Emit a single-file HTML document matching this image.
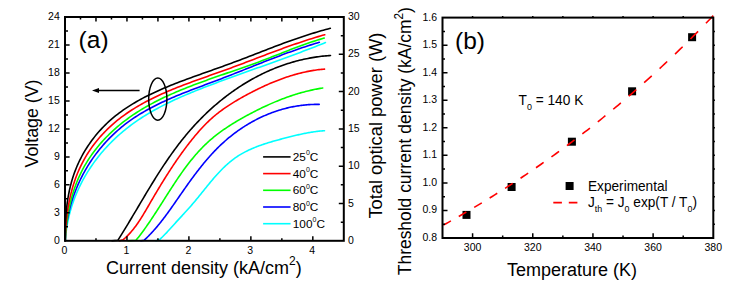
<!DOCTYPE html>
<html><head><meta charset="utf-8"><style>
html,body{margin:0;padding:0;background:#fff;width:730px;height:286px;overflow:hidden}
svg{display:block}
text{font-family:"Liberation Sans",sans-serif}
</style></head><body>
<svg width="730" height="286" viewBox="0 0 730 286" font-family="'Liberation Sans', sans-serif" fill="#000">
<defs><clipPath id="ca"><rect x="65" y="17" width="278.8" height="223.8"/></clipPath>
<clipPath id="cb"><rect x="442.5" y="17.6" width="270.8" height="220.4"/></clipPath></defs>
<rect x="462.5" y="210.9" width="8" height="8" fill="#000"/><rect x="507.6" y="183" width="8" height="8" fill="#000"/><rect x="567.9" y="137.7" width="8" height="8" fill="#000"/><rect x="628.1" y="87.3" width="8" height="8" fill="#000"/><rect x="688.1" y="33.2" width="8" height="8" fill="#000"/><path d="M443.3 225.16 L445.83 223.75 L448.37 222.34 L450.9 220.91 M458.75 216.45 L461.28 214.99 L463.82 213.52 L466.35 212.04 M474.2 207.41 L476.73 205.89 L479.27 204.37 L481.8 202.84 M489.65 198.03 L492.18 196.46 L494.72 194.88 L497.25 193.29 M505.1 188.3 L507.63 186.68 L510.17 185.04 L512.7 183.39 M520.55 178.21 L523.08 176.52 L525.62 174.82 L528.15 173.11 M536 167.75 L538.53 165.99 L541.07 164.23 L543.6 162.46 M551.45 156.89 L553.98 155.07 L556.52 153.24 L559.05 151.4 M566.9 145.62 L569.43 143.74 L571.97 141.84 L574.5 139.93 M582.35 133.94 L584.88 131.98 L587.42 130.01 L589.95 128.03 M597.8 121.82 L600.33 119.79 L602.87 117.75 L605.4 115.69 M613.25 109.25 L615.78 107.14 L618.32 105.02 L620.85 102.89 M628.7 96.2 L631.23 94.02 L633.77 91.82 L636.3 89.61 M644.15 82.67 L646.68 80.4 L649.22 78.12 L651.75 75.83 M659.6 68.63 L662.13 66.28 L664.67 63.92 L667.2 61.54 M675.05 54.07 L677.58 51.63 L680.12 49.18 L682.65 46.71 M690.5 38.97 L693.03 36.44 L695.57 33.89 L698.1 31.33 M705.95 23.3 L708.4 20.76 L710.85 18.21 L713.3 15.64" stroke="#ff0000" stroke-width="1.6" fill="none"/><path d="M65.31 240.81 L65.47 238.54 L65.66 236.28 L65.89 234.03 L66.15 231.79 L66.45 229.56 L66.78 227.34 L67.15 225.14 L67.55 222.94 L67.98 220.76 L68.44 218.58 L68.94 216.42 L69.47 214.27 L70.03 212.14 L70.63 210.01 L71.25 207.9 L71.91 205.8 L72.59 203.71 L73.31 201.64 L74.06 199.57 L74.83 197.53 L75.64 195.49 L76.47 193.47 L77.34 191.46 L78.23 189.47 L79.15 187.49 L80.09 185.53 L81.07 183.58 L82.07 181.64 L83.1 179.73 L84.15 177.82 L85.23 175.93 L86.34 174.06 L87.47 172.2 L88.63 170.36 L89.81 168.53 L91.01 166.72 L92.24 164.93 L93.5 163.15 L94.77 161.39 L96.07 159.65 L97.4 157.92 L98.74 156.22 L100.11 154.53 L101.5 152.85 L102.91 151.2 L104.34 149.56 L105.79 147.94 L107.27 146.34 L108.76 144.76 L110.27 143.2 L111.81 141.66 L113.36 140.13 L114.93 138.63 L116.52 137.14 L118.13 135.68 L119.75 134.23 L121.39 132.81 L123.05 131.4 L124.73 130.02 L126.42 128.65 L128.13 127.31 L129.86 125.99 L131.6 124.69 L133.36 123.41 L135.13 122.15 L136.91 120.9 L138.71 119.68 L140.53 118.48 L142.36 117.29 L144.2 116.13 L146.05 114.98 L147.91 113.85 L149.79 112.73 L151.68 111.64 L153.58 110.55 L155.49 109.49 L157.42 108.44 L159.35 107.4 L161.29 106.38 L163.24 105.37 L165.2 104.38 L167.17 103.4 L169.15 102.43 L171.14 101.48 L173.13 100.53 L175.14 99.6 L177.15 98.68 L179.16 97.78 L181.18 96.88 L183.21 95.99 L185.25 95.12 L187.29 94.25 L189.33 93.39 L191.38 92.54 L193.44 91.7 L195.49 90.87 L197.55 90.04 L199.62 89.22 L201.69 88.41 L203.76 87.6 L205.83 86.8 L207.9 86.01 L209.98 85.22 L212.05 84.44 L214.13 83.66 L216.21 82.88 L218.29 82.11 L220.37 81.34 L222.44 80.58 L224.52 79.82 L226.6 79.06 L228.67 78.3 L230.75 77.54 L232.82 76.79 L234.9 76.04 L236.97 75.29 L239.04 74.54 L241.11 73.8 L243.18 73.05 L245.26 72.31 L247.33 71.57 L249.39 70.83 L251.46 70.08 L253.53 69.34 L255.6 68.6 L257.67 67.87 L259.73 67.13 L261.8 66.39 L263.86 65.65 L265.92 64.91 L267.99 64.17 L270.05 63.43 L272.11 62.69 L274.17 61.94 L276.23 61.2 L278.29 60.45 L280.35 59.71 L282.41 58.96 L284.46 58.21 L286.52 57.46 L288.57 56.7 L290.63 55.95 L292.68 55.19 L294.73 54.43 L296.78 53.66 L298.83 52.9 L300.88 52.13 L302.93 51.35 L304.98 50.58 L307.02 49.8 L309.07 49.01 L311.11 48.23 L313.16 47.43 L315.2 46.64 L317.24 45.84 L319.28 45.04 L321.32 44.23 L323.36 43.41 L325.4 42.59" stroke="#00ffff" stroke-width="1.6" fill="none" stroke-linejoin="round" stroke-linecap="round"/><path d="M156 240.8 L159.6 239.6 L160.36 238.9 L161.11 238.19 L161.85 237.48 L162.59 236.76 L163.32 236.03 L164.05 235.3 L164.77 234.56 L165.48 233.82 L166.19 233.08 L166.9 232.33 L167.6 231.57 L168.3 230.82 L169 230.06 L169.69 229.3 L170.38 228.53 L171.07 227.77 L171.76 227 L172.45 226.24 L173.14 225.47 L173.83 224.7 L174.51 223.94 L175.2 223.17 L175.89 222.41 L176.58 221.65 L177.27 220.89 L177.97 220.13 L178.66 219.37 L179.36 218.61 L180.06 217.86 L180.75 217.1 L181.45 216.34 L182.15 215.59 L182.84 214.83 L183.54 214.08 L184.24 213.32 L184.93 212.56 L185.63 211.8 L186.32 211.04 L187.02 210.28 L187.71 209.51 L188.4 208.75 L189.09 207.98 L189.77 207.21 L190.46 206.43 L191.14 205.66 L191.82 204.88 L192.5 204.09 L193.17 203.31 L193.84 202.52 L194.51 201.72 L195.18 200.93 L195.85 200.13 L196.51 199.33 L197.17 198.52 L197.83 197.72 L198.49 196.91 L199.15 196.1 L199.81 195.29 L200.46 194.48 L201.12 193.66 L201.77 192.85 L202.43 192.04 L203.08 191.22 L203.74 190.41 L204.39 189.6 L205.05 188.78 L205.7 187.97 L206.36 187.16 L207.02 186.35 L207.67 185.54 L208.33 184.73 L208.99 183.92 L209.66 183.12 L210.32 182.32 L210.99 181.52 L211.65 180.72 L212.32 179.93 L213 179.14 L213.67 178.35 L214.35 177.57 L215.03 176.79 L215.71 176.01 L216.4 175.24 L217.09 174.47 L217.79 173.71 L218.48 172.95 L219.19 172.2 L219.89 171.45 L220.6 170.71 L221.32 169.97 L222.04 169.24 L222.76 168.52 L223.49 167.8 L224.22 167.09 L224.96 166.39 L225.71 165.69 L226.46 165 L227.22 164.32 L227.98 163.65 L228.75 162.98 L229.52 162.32 L230.31 161.67 L231.09 161.03 L231.89 160.4 L232.69 159.78 L233.5 159.17 L234.32 158.56 L235.14 157.97 L235.97 157.39 L236.81 156.81 L237.66 156.25 L238.52 155.7 L239.38 155.16 L240.26 154.63 L241.14 154.11 L242.02 153.59 L242.92 153.09 L243.82 152.6 L244.72 152.12 L245.64 151.64 L246.56 151.18 L247.48 150.72 L248.42 150.27 L249.35 149.84 L250.3 149.41 L251.25 148.98 L252.2 148.57 L253.16 148.16 L254.12 147.76 L255.09 147.37 L256.06 146.98 L257.03 146.6 L258.01 146.23 L259 145.87 L259.98 145.51 L260.97 145.15 L261.96 144.81 L262.96 144.47 L263.96 144.13 L264.95 143.8 L265.96 143.48 L266.96 143.16 L267.97 142.84 L268.97 142.53 L269.98 142.23 L270.99 141.92 L272 141.63 L273.01 141.33 L274.02 141.04 L275.03 140.76 L276.04 140.48 L277.05 140.2 L278.06 139.92 L279.07 139.65 L280.08 139.37 L281.09 139.11 L282.09 138.84 L283.1 138.58 L284.1 138.31 L285.1 138.05 L286.1 137.79 L287.1 137.54 L288.09 137.28 L289.09 137.03 L290.08 136.77 L291.07 136.52 L292.06 136.28 L293.05 136.03 L294.04 135.79 L295.03 135.55 L296.02 135.32 L297 135.08 L297.99 134.86 L298.98 134.63 L299.97 134.41 L300.96 134.19 L301.96 133.98 L302.95 133.77 L303.94 133.57 L304.94 133.37 L305.94 133.17 L306.94 132.98 L307.94 132.8 L308.95 132.62 L309.96 132.45 L310.97 132.28 L311.99 132.12 L313 131.96 L314.03 131.81 L315.05 131.67 L316.08 131.53 L317.12 131.4 L318.16 131.28 L319.2 131.16 L320.25 131.06 L321.3 130.96 L322.36 130.86 L323.43 130.78 L324.5 130.7" stroke="#00ffff" stroke-width="1.6" fill="none" stroke-linejoin="round" stroke-linecap="round"/><path d="M65.31 240.81 L65.39 238.58 L65.49 236.36 L65.64 234.14 L65.82 231.93 L66.03 229.72 L66.27 227.53 L66.54 225.34 L66.85 223.15 L67.19 220.98 L67.57 218.81 L67.97 216.65 L68.41 214.5 L68.88 212.35 L69.37 210.22 L69.9 208.09 L70.46 205.98 L71.05 203.87 L71.67 201.78 L72.32 199.69 L73 197.62 L73.71 195.56 L74.45 193.51 L75.22 191.47 L76.01 189.44 L76.83 187.43 L77.69 185.42 L78.56 183.44 L79.47 181.46 L80.4 179.5 L81.36 177.55 L82.35 175.62 L83.37 173.7 L84.41 171.8 L85.47 169.91 L86.56 168.04 L87.68 166.18 L88.82 164.34 L89.99 162.51 L91.18 160.71 L92.4 158.92 L93.64 157.14 L94.91 155.39 L96.19 153.65 L97.51 151.93 L98.84 150.23 L100.2 148.55 L101.58 146.89 L102.98 145.25 L104.41 143.63 L105.86 142.02 L107.33 140.44 L108.82 138.88 L110.33 137.34 L111.86 135.83 L113.41 134.33 L114.99 132.86 L116.58 131.4 L118.2 129.98 L119.83 128.57 L121.48 127.19 L123.15 125.83 L124.85 124.49 L126.56 123.18 L128.28 121.9 L130.03 120.64 L131.79 119.4 L133.57 118.18 L135.37 116.99 L137.18 115.82 L139.01 114.67 L140.86 113.54 L142.72 112.44 L144.59 111.35 L146.47 110.28 L148.37 109.23 L150.29 108.19 L152.21 107.18 L154.15 106.18 L156.09 105.2 L158.05 104.23 L160.02 103.28 L162 102.34 L163.99 101.41 L165.98 100.5 L167.99 99.6 L170 98.71 L172.02 97.84 L174.05 96.97 L176.08 96.11 L178.12 95.27 L180.17 94.43 L182.22 93.6 L184.27 92.78 L186.33 91.97 L188.4 91.16 L190.46 90.36 L192.53 89.56 L194.6 88.77 L196.67 87.98 L198.74 87.2 L200.82 86.42 L202.89 85.64 L204.96 84.86 L207.04 84.09 L209.11 83.31 L211.18 82.54 L213.24 81.76 L215.31 80.98 L217.37 80.2 L219.43 79.42 L221.48 78.64 L223.53 77.85 L225.58 77.06 L227.62 76.27 L229.66 75.47 L231.69 74.68 L233.72 73.88 L235.75 73.08 L237.78 72.28 L239.8 71.47 L241.82 70.67 L243.84 69.87 L245.86 69.06 L247.88 68.26 L249.89 67.45 L251.91 66.65 L253.92 65.85 L255.93 65.05 L257.94 64.25 L259.95 63.45 L261.97 62.66 L263.98 61.86 L265.99 61.07 L268.01 60.28 L270.02 59.5 L272.04 58.72 L274.06 57.94 L276.08 57.16 L278.1 56.4 L280.12 55.63 L282.15 54.87 L284.18 54.11 L286.21 53.36 L288.24 52.62 L290.28 51.88 L292.32 51.15 L294.37 50.42 L296.42 49.7 L298.47 48.99 L300.53 48.28 L302.59 47.58 L304.66 46.89 L306.73 46.21 L308.81 45.53 L310.9 44.87 L312.99 44.21 L315.09 43.56 L317.19 42.92 L319.3 42.29" stroke="#0000ff" stroke-width="1.6" fill="none" stroke-linejoin="round" stroke-linecap="round"/><path d="M141 240.8 L144.21 240.21 L145.06 239.42 L145.89 238.63 L146.72 237.83 L147.54 237.02 L148.36 236.21 L149.16 235.39 L149.96 234.56 L150.76 233.73 L151.54 232.89 L152.32 232.04 L153.1 231.19 L153.86 230.34 L154.62 229.47 L155.38 228.61 L156.13 227.73 L156.88 226.86 L157.62 225.97 L158.35 225.09 L159.08 224.2 L159.81 223.3 L160.53 222.4 L161.24 221.49 L161.96 220.58 L162.66 219.67 L163.37 218.76 L164.07 217.84 L164.77 216.91 L165.46 215.99 L166.15 215.06 L166.84 214.12 L167.52 213.19 L168.21 212.25 L168.89 211.31 L169.57 210.36 L170.24 209.42 L170.92 208.47 L171.59 207.52 L172.26 206.57 L172.93 205.62 L173.6 204.66 L174.26 203.71 L174.93 202.75 L175.59 201.79 L176.26 200.83 L176.92 199.87 L177.59 198.91 L178.25 197.95 L178.92 196.99 L179.58 196.02 L180.25 195.06 L180.91 194.1 L181.58 193.14 L182.25 192.18 L182.92 191.21 L183.59 190.25 L184.26 189.29 L184.93 188.34 L185.61 187.38 L186.28 186.42 L186.96 185.46 L187.64 184.51 L188.32 183.55 L189 182.6 L189.69 181.65 L190.37 180.7 L191.06 179.75 L191.75 178.81 L192.45 177.86 L193.14 176.92 L193.84 175.98 L194.54 175.04 L195.24 174.11 L195.95 173.18 L196.66 172.25 L197.37 171.32 L198.09 170.39 L198.8 169.47 L199.52 168.55 L200.25 167.63 L200.98 166.72 L201.71 165.81 L202.44 164.9 L203.18 164 L203.92 163.1 L204.66 162.2 L205.41 161.31 L206.17 160.42 L206.92 159.54 L207.68 158.65 L208.45 157.78 L209.22 156.91 L209.99 156.04 L210.77 155.17 L211.55 154.31 L212.34 153.46 L213.13 152.61 L213.93 151.76 L214.73 150.92 L215.54 150.09 L216.35 149.26 L217.16 148.43 L217.99 147.61 L218.81 146.8 L219.65 145.99 L220.48 145.19 L221.33 144.39 L222.17 143.6 L223.03 142.82 L223.89 142.04 L224.76 141.26 L225.63 140.5 L226.5 139.74 L227.39 138.98 L228.28 138.23 L229.17 137.49 L230.07 136.76 L230.98 136.03 L231.89 135.31 L232.8 134.59 L233.72 133.89 L234.65 133.18 L235.58 132.49 L236.52 131.8 L237.46 131.12 L238.41 130.45 L239.36 129.78 L240.32 129.12 L241.28 128.47 L242.25 127.83 L243.22 127.19 L244.19 126.56 L245.18 125.94 L246.16 125.32 L247.15 124.71 L248.15 124.11 L249.15 123.52 L250.15 122.94 L251.16 122.36 L252.17 121.79 L253.19 121.23 L254.21 120.68 L255.24 120.14 L256.27 119.6 L257.3 119.07 L258.34 118.55 L259.38 118.04 L260.43 117.54 L261.48 117.04 L262.54 116.55 L263.59 116.08 L264.66 115.61 L265.72 115.15 L266.79 114.7 L267.87 114.25 L268.94 113.82 L270.02 113.39 L271.11 112.98 L272.2 112.57 L273.29 112.17 L274.38 111.78 L275.48 111.4 L276.58 111.03 L277.68 110.67 L278.79 110.32 L279.9 109.98 L281.02 109.65 L282.13 109.32 L283.25 109.01 L284.38 108.71 L285.5 108.41 L286.63 108.13 L287.76 107.85 L288.9 107.59 L290.03 107.34 L291.17 107.09 L292.32 106.86 L293.46 106.63 L294.61 106.42 L295.76 106.22 L296.91 106.02 L298.07 105.84 L299.22 105.67 L300.38 105.51 L301.54 105.36 L302.71 105.21 L303.87 105.09 L305.04 104.97 L306.21 104.86 L307.38 104.76 L308.56 104.67 L309.73 104.6 L310.91 104.54 L312.09 104.48 L313.27 104.44 L314.46 104.41 L315.64 104.39 L316.83 104.38 L318.02 104.39 L319.2 104.4" stroke="#0000ff" stroke-width="1.6" fill="none" stroke-linejoin="round" stroke-linecap="round"/><path d="M65.31 240.8 L65.4 238.58 L65.52 236.35 L65.67 234.12 L65.83 231.88 L66.02 229.64 L66.24 227.4 L66.48 225.16 L66.74 222.92 L67.03 220.68 L67.35 218.44 L67.69 216.21 L68.06 213.98 L68.45 211.75 L68.87 209.53 L69.33 207.31 L69.8 205.1 L70.31 202.9 L70.85 200.71 L71.42 198.52 L72.02 196.35 L72.64 194.18 L73.3 192.03 L73.99 189.89 L74.71 187.76 L75.47 185.65 L76.25 183.55 L77.07 181.47 L77.93 179.4 L78.81 177.35 L79.74 175.32 L80.69 173.31 L81.68 171.31 L82.7 169.34 L83.76 167.39 L84.85 165.45 L85.97 163.54 L87.12 161.64 L88.31 159.77 L89.52 157.91 L90.76 156.08 L92.04 154.26 L93.34 152.47 L94.67 150.7 L96.02 148.94 L97.4 147.21 L98.81 145.5 L100.25 143.81 L101.7 142.15 L103.19 140.5 L104.69 138.88 L106.22 137.27 L107.78 135.69 L109.35 134.14 L110.95 132.6 L112.56 131.09 L114.2 129.6 L115.86 128.13 L117.53 126.68 L119.23 125.26 L120.94 123.86 L122.67 122.48 L124.41 121.13 L126.18 119.8 L127.95 118.5 L129.75 117.21 L131.56 115.95 L133.38 114.7 L135.22 113.48 L137.07 112.28 L138.94 111.1 L140.82 109.94 L142.72 108.79 L144.62 107.67 L146.54 106.56 L148.48 105.47 L150.42 104.4 L152.38 103.35 L154.34 102.31 L156.32 101.28 L158.31 100.28 L160.31 99.28 L162.32 98.31 L164.34 97.34 L166.36 96.39 L168.4 95.46 L170.45 94.53 L172.5 93.62 L174.56 92.72 L176.63 91.84 L178.7 90.96 L180.79 90.1 L182.88 89.24 L184.97 88.4 L187.07 87.56 L189.18 86.73 L191.29 85.91 L193.41 85.1 L195.53 84.3 L197.65 83.51 L199.78 82.72 L201.92 81.93 L204.05 81.16 L206.19 80.39 L208.33 79.62 L210.47 78.86 L212.62 78.1 L214.76 77.35 L216.91 76.6 L219.06 75.85 L221.2 75.11 L223.35 74.37 L225.5 73.62 L227.65 72.88 L229.79 72.15 L231.94 71.41 L234.08 70.67 L236.22 69.93 L238.36 69.19 L240.5 68.45 L242.63 67.7 L244.76 66.95 L246.88 66.21 L249.01 65.45 L251.12 64.7 L253.24 63.94 L255.34 63.17 L257.45 62.4 L259.54 61.63 L261.63 60.85 L263.72 60.06 L265.79 59.27 L267.87 58.47 L269.94 57.67 L272 56.87 L274.06 56.06 L276.12 55.25 L278.18 54.44 L280.23 53.64 L282.29 52.83 L284.34 52.02 L286.4 51.22 L288.45 50.42 L290.51 49.62 L292.57 48.83 L294.63 48.05 L296.7 47.27 L298.77 46.5 L300.85 45.73 L302.93 44.98 L305.02 44.24 L307.11 43.5 L309.22 42.78 L311.33 42.07 L313.45 41.37 L315.57 40.68 L317.71 40.01 L319.86 39.36 L322.02 38.72 L324.2 38.09" stroke="#00ff00" stroke-width="1.6" fill="none" stroke-linejoin="round" stroke-linecap="round"/><path d="M128 240.8 L136 240.3 L136.78 239.33 L137.55 238.37 L138.32 237.39 L139.09 236.41 L139.85 235.43 L140.6 234.44 L141.35 233.44 L142.1 232.44 L142.84 231.44 L143.57 230.43 L144.31 229.42 L145.04 228.4 L145.77 227.38 L146.49 226.35 L147.21 225.33 L147.92 224.29 L148.64 223.26 L149.35 222.22 L150.06 221.18 L150.76 220.14 L151.46 219.09 L152.16 218.04 L152.86 216.99 L153.56 215.93 L154.25 214.87 L154.94 213.81 L155.63 212.75 L156.32 211.69 L157.01 210.62 L157.7 209.56 L158.38 208.49 L159.07 207.42 L159.75 206.35 L160.43 205.28 L161.11 204.21 L161.8 203.14 L162.48 202.06 L163.16 200.99 L163.84 199.92 L164.52 198.84 L165.2 197.77 L165.88 196.69 L166.57 195.62 L167.25 194.55 L167.93 193.48 L168.62 192.4 L169.3 191.33 L169.99 190.26 L170.68 189.2 L171.37 188.13 L172.06 187.06 L172.75 186 L173.44 184.94 L174.14 183.88 L174.84 182.82 L175.54 181.76 L176.25 180.71 L176.95 179.66 L177.66 178.61 L178.37 177.56 L179.09 176.52 L179.8 175.48 L180.52 174.44 L181.25 173.41 L181.98 172.38 L182.71 171.35 L183.44 170.33 L184.18 169.31 L184.93 168.3 L185.67 167.29 L186.42 166.28 L187.18 165.28 L187.94 164.28 L188.71 163.29 L189.48 162.3 L190.25 161.32 L191.03 160.34 L191.82 159.37 L192.61 158.41 L193.41 157.45 L194.21 156.49 L195.02 155.54 L195.83 154.6 L196.65 153.66 L197.48 152.73 L198.31 151.81 L199.15 150.89 L200 149.98 L200.85 149.08 L201.71 148.18 L202.58 147.29 L203.45 146.41 L204.33 145.54 L205.22 144.67 L206.12 143.81 L207.02 142.96 L207.94 142.12 L208.86 141.28 L209.78 140.46 L210.72 139.64 L211.67 138.83 L212.62 138.03 L213.58 137.23 L214.55 136.45 L215.52 135.67 L216.5 134.9 L217.49 134.14 L218.49 133.38 L219.49 132.63 L220.5 131.89 L221.51 131.16 L222.54 130.43 L223.56 129.71 L224.6 129 L225.63 128.29 L226.68 127.59 L227.73 126.9 L228.78 126.21 L229.84 125.52 L230.9 124.85 L231.97 124.18 L233.04 123.51 L234.12 122.85 L235.2 122.2 L236.28 121.55 L237.37 120.9 L238.46 120.26 L239.56 119.63 L240.65 119 L241.75 118.37 L242.86 117.75 L243.96 117.13 L245.07 116.52 L246.18 115.91 L247.29 115.31 L248.4 114.71 L249.52 114.11 L250.64 113.52 L251.75 112.93 L252.87 112.34 L254 111.76 L255.12 111.19 L256.25 110.61 L257.38 110.05 L258.51 109.48 L259.64 108.92 L260.77 108.37 L261.91 107.82 L263.05 107.28 L264.19 106.74 L265.33 106.2 L266.47 105.67 L267.62 105.15 L268.77 104.63 L269.92 104.12 L271.07 103.61 L272.23 103.11 L273.38 102.61 L274.54 102.12 L275.7 101.63 L276.86 101.15 L278.03 100.68 L279.19 100.21 L280.36 99.75 L281.53 99.29 L282.71 98.84 L283.88 98.4 L285.06 97.96 L286.24 97.53 L287.42 97.11 L288.61 96.69 L289.79 96.28 L290.98 95.87 L292.17 95.48 L293.37 95.09 L294.56 94.7 L295.76 94.33 L296.96 93.96 L298.16 93.59 L299.36 93.24 L300.57 92.89 L301.78 92.55 L302.99 92.22 L304.21 91.9 L305.42 91.58 L306.64 91.27 L307.86 90.97 L309.08 90.68 L310.31 90.39 L311.54 90.11 L312.77 89.85 L314 89.58 L315.24 89.33 L316.47 89.09 L317.71 88.85 L318.96 88.63 L320.2 88.41 L321.45 88.2 L322.7 88" stroke="#00ff00" stroke-width="1.6" fill="none" stroke-linejoin="round" stroke-linecap="round"/><path d="M65.31 240.8 L65.34 238.56 L65.4 236.31 L65.47 234.05 L65.57 231.78 L65.69 229.51 L65.84 227.24 L66 224.96 L66.2 222.68 L66.41 220.39 L66.65 218.11 L66.92 215.82 L67.21 213.54 L67.53 211.26 L67.87 208.98 L68.24 206.7 L68.64 204.43 L69.07 202.16 L69.53 199.9 L70.01 197.65 L70.53 195.4 L71.07 193.17 L71.65 190.94 L72.25 188.72 L72.89 186.52 L73.56 184.33 L74.26 182.15 L74.99 179.98 L75.76 177.83 L76.56 175.69 L77.39 173.58 L78.26 171.48 L79.17 169.39 L80.11 167.33 L81.08 165.29 L82.09 163.27 L83.14 161.27 L84.23 159.29 L85.34 157.33 L86.5 155.4 L87.68 153.49 L88.9 151.6 L90.16 149.73 L91.44 147.89 L92.75 146.07 L94.1 144.27 L95.48 142.49 L96.88 140.74 L98.32 139.02 L99.78 137.32 L101.27 135.64 L102.78 133.98 L104.33 132.35 L105.9 130.75 L107.49 129.17 L109.11 127.62 L110.75 126.09 L112.42 124.58 L114.11 123.11 L115.82 121.65 L117.55 120.23 L119.31 118.83 L121.08 117.46 L122.88 116.11 L124.69 114.79 L126.52 113.5 L128.37 112.23 L130.24 110.98 L132.13 109.76 L134.03 108.56 L135.95 107.38 L137.89 106.22 L139.84 105.09 L141.8 103.97 L143.78 102.88 L145.77 101.81 L147.78 100.75 L149.8 99.71 L151.83 98.69 L153.87 97.69 L155.93 96.7 L157.99 95.73 L160.07 94.77 L162.15 93.83 L164.25 92.9 L166.35 91.99 L168.46 91.09 L170.58 90.2 L172.71 89.32 L174.84 88.46 L176.98 87.6 L179.12 86.76 L181.28 85.92 L183.43 85.09 L185.59 84.27 L187.75 83.46 L189.92 82.65 L192.09 81.86 L194.26 81.06 L196.43 80.27 L198.61 79.49 L200.78 78.71 L202.96 77.93 L205.13 77.16 L207.31 76.39 L209.48 75.62 L211.65 74.85 L213.82 74.08 L215.99 73.32 L218.15 72.55 L220.31 71.78 L222.46 71 L224.61 70.23 L226.76 69.45 L228.9 68.67 L231.03 67.89 L233.16 67.1 L235.29 66.31 L237.41 65.52 L239.52 64.72 L241.64 63.93 L243.75 63.13 L245.85 62.33 L247.96 61.54 L250.06 60.74 L252.16 59.94 L254.26 59.14 L256.36 58.34 L258.46 57.54 L260.55 56.75 L262.65 55.95 L264.74 55.16 L266.84 54.36 L268.94 53.57 L271.04 52.79 L273.14 52 L275.24 51.22 L277.34 50.44 L279.45 49.66 L281.56 48.89 L283.67 48.12 L285.78 47.36 L287.9 46.6 L290.03 45.85 L292.15 45.1 L294.29 44.36 L296.42 43.62 L298.56 42.89 L300.71 42.16 L302.86 41.45 L305.02 40.74 L307.19 40.03 L309.36 39.34 L311.55 38.65 L313.73 37.97 L315.93 37.29 L318.13 36.63 L320.35 35.98 L322.57 35.33 L324.8 34.7" stroke="#ff0000" stroke-width="1.6" fill="none" stroke-linejoin="round" stroke-linecap="round"/><path d="M119.5 240.8 L123.01 239.81 L124.07 238.91 L125.11 237.99 L126.13 237.05 L127.13 236.09 L128.1 235.12 L129.05 234.13 L129.98 233.12 L130.9 232.1 L131.79 231.06 L132.67 230.01 L133.53 228.94 L134.37 227.86 L135.2 226.77 L136.02 225.67 L136.82 224.56 L137.61 223.44 L138.39 222.3 L139.15 221.16 L139.91 220.01 L140.66 218.85 L141.39 217.69 L142.12 216.51 L142.85 215.34 L143.56 214.15 L144.27 212.96 L144.98 211.77 L145.68 210.58 L146.39 209.38 L147.08 208.18 L147.78 206.98 L148.48 205.77 L149.17 204.57 L149.87 203.37 L150.57 202.16 L151.27 200.96 L151.97 199.76 L152.68 198.56 L153.38 197.36 L154.09 196.16 L154.79 194.96 L155.5 193.76 L156.21 192.56 L156.93 191.37 L157.64 190.17 L158.36 188.98 L159.08 187.78 L159.8 186.59 L160.52 185.4 L161.24 184.21 L161.97 183.03 L162.7 181.84 L163.43 180.65 L164.17 179.47 L164.9 178.29 L165.64 177.11 L166.38 175.93 L167.13 174.75 L167.88 173.58 L168.63 172.41 L169.38 171.24 L170.14 170.07 L170.9 168.9 L171.66 167.74 L172.43 166.58 L173.2 165.42 L173.97 164.26 L174.75 163.11 L175.53 161.96 L176.31 160.81 L177.1 159.66 L177.89 158.52 L178.69 157.38 L179.49 156.24 L180.29 155.1 L181.1 153.97 L181.91 152.84 L182.72 151.72 L183.54 150.6 L184.37 149.48 L185.19 148.36 L186.03 147.25 L186.86 146.14 L187.71 145.03 L188.55 143.93 L189.41 142.83 L190.26 141.74 L191.12 140.65 L191.99 139.56 L192.86 138.48 L193.74 137.4 L194.62 136.33 L195.51 135.27 L196.41 134.21 L197.31 133.15 L198.22 132.11 L199.13 131.07 L200.05 130.04 L200.98 129.01 L201.92 127.99 L202.86 126.98 L203.81 125.98 L204.77 124.99 L205.74 124.01 L206.71 123.03 L207.7 122.07 L208.69 121.12 L209.69 120.17 L210.7 119.24 L211.72 118.32 L212.75 117.41 L213.79 116.51 L214.83 115.62 L215.89 114.75 L216.96 113.88 L218.03 113.03 L219.12 112.19 L220.21 111.36 L221.32 110.54 L222.43 109.73 L223.55 108.93 L224.67 108.14 L225.81 107.36 L226.95 106.59 L228.1 105.83 L229.25 105.07 L230.41 104.33 L231.58 103.59 L232.75 102.86 L233.93 102.13 L235.12 101.42 L236.31 100.7 L237.5 100 L238.7 99.3 L239.91 98.61 L241.12 97.92 L242.33 97.24 L243.55 96.57 L244.77 95.89 L245.99 95.23 L247.22 94.56 L248.44 93.9 L249.68 93.25 L250.91 92.6 L252.15 91.96 L253.4 91.32 L254.64 90.68 L255.89 90.06 L257.14 89.43 L258.4 88.82 L259.65 88.21 L260.91 87.6 L262.18 87.01 L263.44 86.42 L264.71 85.83 L265.99 85.25 L267.26 84.68 L268.54 84.12 L269.82 83.57 L271.11 83.02 L272.39 82.48 L273.68 81.94 L274.97 81.42 L276.27 80.9 L277.57 80.39 L278.87 79.89 L280.17 79.4 L281.47 78.92 L282.78 78.45 L284.09 77.98 L285.41 77.53 L286.72 77.08 L288.04 76.65 L289.36 76.22 L290.68 75.81 L292.01 75.4 L293.34 75 L294.67 74.62 L296 74.24 L297.34 73.88 L298.67 73.53 L300.01 73.18 L301.36 72.85 L302.7 72.53 L304.05 72.23 L305.4 71.93 L306.75 71.64 L308.1 71.37 L309.46 71.11 L310.81 70.86 L312.17 70.63 L313.53 70.4 L314.9 70.19 L316.26 70 L317.63 69.81 L319 69.64 L320.37 69.49 L321.75 69.34 L323.12 69.21 L324.5 69.1" stroke="#ff0000" stroke-width="1.6" fill="none" stroke-linejoin="round" stroke-linecap="round"/><path d="M65.31 240.8 L65.27 238.5 L65.25 236.18 L65.24 233.85 L65.26 231.52 L65.29 229.17 L65.34 226.83 L65.42 224.47 L65.51 222.11 L65.63 219.75 L65.78 217.39 L65.95 215.02 L66.14 212.65 L66.36 210.29 L66.61 207.92 L66.88 205.56 L67.19 203.2 L67.52 200.85 L67.89 198.5 L68.29 196.16 L68.72 193.83 L69.19 191.5 L69.69 189.19 L70.22 186.88 L70.8 184.59 L71.41 182.31 L72.05 180.04 L72.74 177.79 L73.47 175.56 L74.24 173.34 L75.05 171.14 L75.9 168.95 L76.79 166.79 L77.72 164.64 L78.68 162.51 L79.69 160.41 L80.73 158.32 L81.81 156.25 L82.93 154.21 L84.08 152.19 L85.27 150.19 L86.5 148.21 L87.76 146.26 L89.05 144.33 L90.37 142.43 L91.73 140.55 L93.12 138.7 L94.55 136.87 L96 135.07 L97.48 133.3 L99 131.55 L100.54 129.84 L102.12 128.15 L103.72 126.49 L105.35 124.86 L107 123.26 L108.69 121.7 L110.4 120.16 L112.13 118.65 L113.89 117.18 L115.68 115.73 L117.49 114.31 L119.32 112.92 L121.17 111.56 L123.05 110.22 L124.95 108.91 L126.87 107.62 L128.8 106.36 L130.76 105.12 L132.74 103.91 L134.74 102.72 L136.75 101.55 L138.78 100.4 L140.83 99.28 L142.89 98.17 L144.97 97.08 L147.06 96.01 L149.17 94.96 L151.29 93.93 L153.42 92.92 L155.57 91.92 L157.72 90.93 L159.89 89.97 L162.07 89.01 L164.26 88.07 L166.46 87.15 L168.66 86.23 L170.88 85.33 L173.1 84.44 L175.33 83.56 L177.56 82.69 L179.8 81.83 L182.04 80.98 L184.29 80.14 L186.55 79.3 L188.8 78.47 L191.06 77.65 L193.32 76.83 L195.58 76.02 L197.84 75.21 L200.11 74.41 L202.37 73.6 L204.63 72.81 L206.89 72.01 L209.14 71.21 L211.4 70.42 L213.65 69.62 L215.89 68.83 L218.13 68.03 L220.37 67.23 L222.59 66.43 L224.82 65.62 L227.03 64.81 L229.24 64 L231.44 63.18 L233.63 62.36 L235.82 61.54 L238.01 60.71 L240.18 59.88 L242.36 59.05 L244.52 58.22 L246.69 57.38 L248.85 56.55 L251.01 55.72 L253.16 54.88 L255.31 54.05 L257.47 53.21 L259.62 52.38 L261.77 51.55 L263.91 50.72 L266.06 49.89 L268.21 49.06 L270.36 48.24 L272.51 47.42 L274.67 46.6 L276.82 45.79 L278.98 44.98 L281.14 44.17 L283.3 43.37 L285.47 42.58 L287.64 41.79 L289.82 41.01 L292 40.23 L294.19 39.46 L296.38 38.69 L298.58 37.94 L300.79 37.19 L303 36.45 L305.23 35.71 L307.46 34.99 L309.69 34.27 L311.94 33.57 L314.2 32.87 L316.47 32.18 L318.74 31.51 L321.03 30.84 L323.33 30.19 L325.64 29.55 L327.97 28.92 L330.3 28.3" stroke="#000000" stroke-width="1.6" fill="none" stroke-linejoin="round" stroke-linecap="round"/><path d="M112 240.8 L117.82 240.31 L118.6 239.07 L119.39 237.83 L120.17 236.59 L120.95 235.35 L121.73 234.11 L122.5 232.86 L123.27 231.61 L124.05 230.35 L124.82 229.1 L125.58 227.84 L126.35 226.58 L127.12 225.32 L127.88 224.06 L128.64 222.79 L129.41 221.53 L130.17 220.26 L130.93 218.99 L131.69 217.72 L132.45 216.45 L133.21 215.18 L133.96 213.9 L134.72 212.63 L135.48 211.35 L136.24 210.08 L137 208.8 L137.75 207.52 L138.51 206.24 L139.27 204.97 L140.03 203.69 L140.79 202.41 L141.55 201.13 L142.31 199.85 L143.07 198.57 L143.83 197.29 L144.59 196.01 L145.36 194.74 L146.12 193.46 L146.89 192.18 L147.66 190.91 L148.43 189.63 L149.2 188.36 L149.98 187.08 L150.75 185.81 L151.53 184.54 L152.31 183.27 L153.09 182 L153.88 180.73 L154.66 179.47 L155.45 178.2 L156.24 176.94 L157.04 175.68 L157.83 174.42 L158.63 173.17 L159.44 171.91 L160.24 170.66 L161.05 169.41 L161.87 168.16 L162.68 166.92 L163.5 165.67 L164.33 164.43 L165.15 163.2 L165.99 161.96 L166.82 160.73 L167.66 159.5 L168.5 158.28 L169.35 157.06 L170.2 155.84 L171.06 154.62 L171.92 153.41 L172.79 152.21 L173.66 151 L174.53 149.8 L175.41 148.61 L176.3 147.41 L177.19 146.23 L178.09 145.04 L178.99 143.86 L179.9 142.69 L180.81 141.52 L181.73 140.35 L182.65 139.19 L183.58 138.04 L184.52 136.88 L185.46 135.74 L186.41 134.6 L187.37 133.46 L188.33 132.33 L189.29 131.2 L190.27 130.08 L191.25 128.97 L192.24 127.86 L193.23 126.76 L194.23 125.66 L195.23 124.57 L196.24 123.48 L197.26 122.4 L198.28 121.33 L199.31 120.26 L200.35 119.19 L201.39 118.14 L202.43 117.09 L203.49 116.04 L204.55 115.01 L205.61 113.98 L206.68 112.95 L207.76 111.93 L208.84 110.92 L209.93 109.92 L211.02 108.92 L212.12 107.93 L213.23 106.94 L214.34 105.97 L215.46 105 L216.58 104.03 L217.71 103.08 L218.84 102.13 L219.98 101.19 L221.13 100.25 L222.28 99.33 L223.44 98.41 L224.6 97.5 L225.77 96.59 L226.94 95.7 L228.12 94.81 L229.3 93.93 L230.49 93.06 L231.69 92.19 L232.89 91.34 L234.09 90.49 L235.3 89.65 L236.52 88.82 L237.74 87.99 L238.97 87.18 L240.2 86.37 L241.44 85.57 L242.68 84.78 L243.93 84 L245.18 83.23 L246.44 82.47 L247.7 81.72 L248.97 80.97 L250.24 80.23 L251.52 79.51 L252.81 78.79 L254.09 78.08 L255.39 77.38 L256.69 76.69 L257.99 76.01 L259.3 75.34 L260.61 74.68 L261.93 74.03 L263.25 73.39 L264.58 72.76 L265.91 72.14 L267.25 71.52 L268.59 70.92 L269.94 70.33 L271.29 69.75 L272.65 69.18 L274.01 68.62 L275.37 68.06 L276.74 67.52 L278.12 66.99 L279.5 66.48 L280.88 65.97 L282.27 65.47 L283.66 64.98 L285.06 64.51 L286.46 64.04 L287.87 63.59 L289.28 63.14 L290.7 62.71 L292.12 62.29 L293.54 61.88 L294.97 61.48 L296.4 61.09 L297.84 60.72 L299.28 60.35 L300.73 60 L302.18 59.66 L303.63 59.33 L305.09 59.02 L306.55 58.71 L308.02 58.42 L309.49 58.14 L310.97 57.87 L312.45 57.61 L313.93 57.36 L315.42 57.13 L316.91 56.91 L318.4 56.7 L319.9 56.51 L321.41 56.33 L322.91 56.16 L324.42 56 L325.94 55.85 L327.46 55.72 L328.98 55.6 L330.51 55.5" stroke="#000000" stroke-width="1.6" fill="none" stroke-linejoin="round" stroke-linecap="round"/>
<path d="M263.1 156.9H290.6" stroke="#000000" stroke-width="1.6"/><path d="M263.1 173.6H290.6" stroke="#ff0000" stroke-width="1.6"/><path d="M263.1 190.3H290.6" stroke="#00ff00" stroke-width="1.6"/><path d="M263.1 207H290.6" stroke="#0000ff" stroke-width="1.6"/><path d="M263.1 223.7H290.6" stroke="#00ffff" stroke-width="1.6"/><rect x="565.6" y="182" width="8" height="8" fill="#000"/><path d="M553.3 202.6h8.6M568.8 202.6h8.6" stroke="#ff0000" stroke-width="1.6"/><path d="M139.6 90.4H97" stroke="#000" stroke-width="1.5"/><path d="M92 90.4L99 87.9L99 92.9Z" fill="#000"/><ellipse cx="157.8" cy="99.1" rx="9.1" ry="21.1" fill="none" stroke="#000" stroke-width="1.5"/>
<rect x="65" y="17" width="278.8" height="223.8" fill="none" stroke="#000" stroke-width="2.0"/><rect x="442.5" y="17.6" width="270.8" height="220.4" fill="none" stroke="#000" stroke-width="2.0"/><path d="M65 226.81h3 M65 212.83h4.6 M65 198.84h3 M65 184.85h4.6 M65 170.86h3 M65 156.88h4.6 M65 142.89h3 M65 128.9h4.6 M65 114.91h3 M65 100.93h4.6 M65 86.94h3 M65 72.95h4.6 M65 58.96h3 M65 44.97h4.6 M65 30.99h3 M95.98 240.8v-2.6 M126.96 240.8v-4.6 M157.93 240.8v-2.6 M188.91 240.8v-4.6 M219.89 240.8v-2.6 M250.87 240.8v-4.6 M281.84 240.8v-2.6 M312.82 240.8v-4.6 M80.49 17v2.5 M95.98 17v4.5 M111.47 17v2.5 M126.96 17v4.5 M142.44 17v2.5 M157.93 17v4.5 M173.42 17v2.5 M188.91 17v4.5 M204.4 17v2.5 M219.89 17v4.5 M235.38 17v2.5 M250.87 17v4.5 M266.36 17v2.5 M281.84 17v4.5 M297.33 17v2.5 M312.82 17v4.5 M328.31 17v2.5 M343.8 222.15h-3 M343.8 203.5h-5 M343.8 184.85h-3 M343.8 166.2h-5 M343.8 147.55h-3 M343.8 128.9h-5 M343.8 110.25h-3 M343.8 91.6h-5 M343.8 72.95h-3 M343.8 54.3h-5 M343.8 35.65h-3 M442.5 224.22h2.5 M442.5 210.45h5 M442.5 196.68h2.5 M442.5 182.9h5 M442.5 169.12h2.5 M442.5 155.35h5 M442.5 141.57h2.5 M442.5 127.8h5 M442.5 114.03h2.5 M442.5 100.25h5 M442.5 86.47h2.5 M442.5 72.7h5 M442.5 58.92h2.5 M442.5 45.15h5 M442.5 31.38h2.5 M472.59 238v-4.8 M502.68 238v-2.6 M532.77 238v-4.8 M562.86 238v-2.6 M592.94 238v-4.8 M623.03 238v-2.6 M653.12 238v-4.8 M683.21 238v-2.6 M472.59 17.6v-1.6 M502.68 17.6v-1.6 M532.77 17.6v-1.6 M562.86 17.6v-1.6 M592.94 17.6v-1.6 M623.03 17.6v-1.6 M653.12 17.6v-1.6 M683.21 17.6v-1.6 M713.3 224.22h1.6 M713.3 210.45h1.6 M713.3 196.68h1.6 M713.3 182.9h1.6 M713.3 169.12h1.6 M713.3 155.35h1.6 M713.3 141.57h1.6 M713.3 127.8h1.6 M713.3 114.03h1.6 M713.3 100.25h1.6 M713.3 86.47h1.6 M713.3 72.7h1.6 M713.3 58.92h1.6 M713.3 45.15h1.6 M713.3 31.38h1.6" stroke="#000" stroke-width="1.5" fill="none"/>
<text x="59.8" y="243.8" text-anchor="end" font-size="10.5">0</text><text x="59.8" y="215.83" text-anchor="end" font-size="10.5">3</text><text x="59.8" y="187.85" text-anchor="end" font-size="10.5">6</text><text x="59.8" y="159.88" text-anchor="end" font-size="10.5">9</text><text x="59.8" y="131.9" text-anchor="end" font-size="10.5">12</text><text x="59.8" y="103.93" text-anchor="end" font-size="10.5">15</text><text x="59.8" y="75.95" text-anchor="end" font-size="10.5">18</text><text x="59.8" y="47.97" text-anchor="end" font-size="10.5">21</text><text x="59.8" y="20" text-anchor="end" font-size="10.5">24</text><text x="64.4" y="253.6" text-anchor="middle" font-size="10.5">0</text><text x="126.36" y="253.6" text-anchor="middle" font-size="10.5">1</text><text x="188.31" y="253.6" text-anchor="middle" font-size="10.5">2</text><text x="250.27" y="253.6" text-anchor="middle" font-size="10.5">3</text><text x="312.22" y="253.6" text-anchor="middle" font-size="10.5">4</text><text x="348" y="243.8" font-size="10.5">0</text><text x="348" y="206.5" font-size="10.5">5</text><text x="348" y="169.2" font-size="10.5">10</text><text x="348" y="131.9" font-size="10.5">15</text><text x="348" y="94.6" font-size="10.5">20</text><text x="348" y="57.3" font-size="10.5">25</text><text x="348" y="20" font-size="10.5">30</text><text x="437" y="241" text-anchor="end" font-size="10.5">0.8</text><text x="437" y="213.45" text-anchor="end" font-size="10.5">0.9</text><text x="437" y="185.9" text-anchor="end" font-size="10.5">1.0</text><text x="437" y="158.35" text-anchor="end" font-size="10.5">1.1</text><text x="437" y="130.8" text-anchor="end" font-size="10.5">1.2</text><text x="437" y="103.25" text-anchor="end" font-size="10.5">1.3</text><text x="437" y="75.7" text-anchor="end" font-size="10.5">1.4</text><text x="437" y="48.15" text-anchor="end" font-size="10.5">1.5</text><text x="437" y="20.6" text-anchor="end" font-size="10.5">1.6</text><text x="472.59" y="250.8" text-anchor="middle" font-size="10.5">300</text><text x="532.77" y="250.8" text-anchor="middle" font-size="10.5">320</text><text x="592.94" y="250.8" text-anchor="middle" font-size="10.5">340</text><text x="653.12" y="250.8" text-anchor="middle" font-size="10.5">360</text><text x="713.3" y="250.8" text-anchor="middle" font-size="10.5">380</text><text x="106" y="273.9" font-size="18">Current density (kA/cm<tspan font-size="12" dy="-8.5">2</tspan><tspan dy="8.5">)</tspan></text><text x="507" y="276.2" font-size="18">Temperature (K)</text><text transform="translate(38.4 167.5) rotate(-90)" font-size="17.8">Voltage (V)</text><text transform="translate(382 218.6) rotate(-90)" font-size="18.3">Total optical power (W)</text><text transform="translate(411 275.2) rotate(-90) scale(0.98 1)" font-size="17.8">Threshold current density (kA/cm<tspan font-size="12" dy="-8.5">2</tspan><tspan dy="8.5">)</tspan></text><text x="78.6" y="48.4" font-size="24.5">(a)</text><text x="455" y="49" font-size="24.5">(b)</text><text x="292.8" y="160.9" font-size="11.8">25<tspan font-size="7" dy="-5.5">0</tspan><tspan dy="5.5">C</tspan></text><text x="292.8" y="177.6" font-size="11.8">40<tspan font-size="7" dy="-5.5">0</tspan><tspan dy="5.5">C</tspan></text><text x="292.8" y="194.3" font-size="11.8">60<tspan font-size="7" dy="-5.5">0</tspan><tspan dy="5.5">C</tspan></text><text x="292.8" y="211" font-size="11.8">80<tspan font-size="7" dy="-5.5">0</tspan><tspan dy="5.5">C</tspan></text><text x="292.8" y="227.7" font-size="11.8">100<tspan font-size="7" dy="-5.5">0</tspan><tspan dy="5.5">C</tspan></text><text transform="translate(588 190.6) scale(0.935 1)" font-size="14.6">Experimental</text><text transform="translate(588 207.1) scale(0.935 1)" font-size="14.6">J<tspan font-size="9.5" dy="5">th</tspan><tspan dy="-5"> = J</tspan><tspan font-size="9.5" dy="5">0</tspan><tspan dy="-5"> exp(T / T</tspan><tspan font-size="9.5" dy="5">0</tspan><tspan dy="-5">)</tspan></text><text transform="translate(518.5 105.2) scale(0.94 1)" font-size="14.6">T<tspan font-size="9.5" dy="4.5">0</tspan><tspan dy="-4.5"> = 140 K</tspan></text>
</svg>
</body></html>
